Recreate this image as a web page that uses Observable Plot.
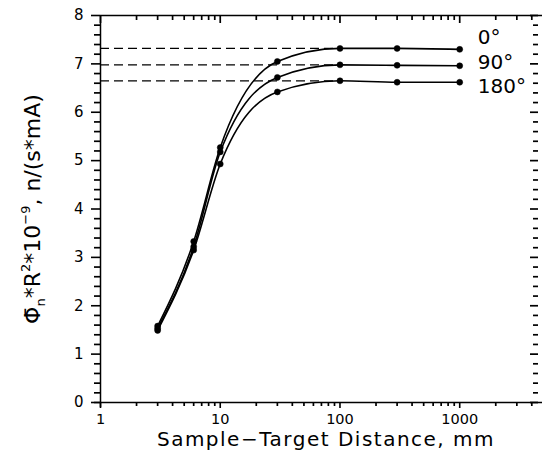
<!DOCTYPE html>
<html><head><meta charset="utf-8">
<script src="https://cdn.jsdelivr.net/npm/d3@7"></script>
<script src="https://cdn.jsdelivr.net/npm/@observablehq/plot@0.6"></script>
<style>body{margin:0;background:#fff}</style>
</head><body><div id="chart"></div>
<script>
// ---- data ----
const distances = [3, 6, 10, 30, 100, 300, 1000];
const angles = ["0°", "90°", "180°"];
const phi0   = [1.58, 3.33, 5.27, 7.05, 7.32, 7.32, 7.30];
const phi90  = [1.53, 3.22, 5.18, 6.72, 6.98, 6.97, 6.96];
const phi180 = [1.49, 3.15, 4.93, 6.42, 6.65, 6.62, 6.62];
const yTickValues = [0, 1, 2, 3, 4, 5, 6, 7, 8];
const xTickValues = [1, 10, 100, 1000];
const xMax = 4550;
const plateauDistance = 100;

const font = "DejaVu Sans";
const W = 542, H = 452, mL = 100, mR = 4, mT = 15, mB = 50;

const seriesValues = [phi0, phi90, phi180];
const rows = [];
angles.forEach((a, k) => distances.forEach((d, i) => rows.push({angle: a, dist: d, phi: seriesValues[k][i]})));
const plateau = angles.map((a, k) => ({angle: a, phi: seriesValues[k][distances.indexOf(plateauDistance)]}));
const lastRows = angles.map((a, k) => ({angle: a, dist: distances[distances.length - 1], phi: seriesValues[k][distances.length - 1]}));

const yMinor = d3.range(0, 8.001, 0.2).map(v => +v.toFixed(1)).filter(v => !yTickValues.includes(v));
const xMinor = [];
xTickValues.forEach(dec => { for (let m = 2; m <= 9; m++) if (dec * m <= xMax) xMinor.push(dec * m); });

const yLo = yTickValues[0], yHi = yTickValues[yTickValues.length - 1], xLo = xTickValues[0];
const labelDy = [-12, -3, 4];
const tk = {stroke: "black", strokeWidth: 1.7};

const chart = Plot.plot({
  width: W, height: H, marginLeft: mL, marginRight: mR, marginTop: mT, marginBottom: mB,
  style: {fontFamily: font, background: "white", color: "black"},
  x: {type: "log", domain: [xLo, xMax]},
  y: {domain: [yLo, yHi]},
  marks: [
    // frame lines
    Plot.ruleX([xLo], {stroke: "black", strokeWidth: 1.5, insetBottom: -5}),
    Plot.ruleY([yLo], {stroke: "black", strokeWidth: 1.5, insetLeft: -6, insetRight: -4}),
    Plot.ruleY([yHi], {stroke: "black", strokeWidth: 1.5, insetRight: -4}),
    // left minor ticks (outward)
    Plot.ruleY(yMinor, {y: d => d, x1: xLo, x2: xLo, insetLeft: -6, ...tk}),
    Plot.axisY(yTickValues, {anchor: "left", tickSize: 9, tickPadding: 8, fontSize: 15, label: null, strokeWidth: 1.6}),
    // right ticks (inward)
    Plot.ruleY(yMinor, {y: d => d, x1: xMax, x2: xMax, insetLeft: -5, ...tk}),
    Plot.ruleY(yTickValues, {y: d => d, x1: xMax, x2: xMax, insetLeft: -8, ...tk}),
    // bottom minor ticks (outward)
    Plot.ruleX(xMinor, {x: d => d, y1: yLo, y2: yLo, insetBottom: -4, ...tk}),
    Plot.axisX(xTickValues, {anchor: "bottom", tickSize: 6, tickPadding: 5, fontSize: 14.5, tickFormat: d => String(d), label: null, strokeWidth: 1.6}),
    // top ticks (inward)
    Plot.ruleX(xMinor, {x: d => d, y1: yHi, y2: yHi, insetBottom: -5, ...tk}),
    Plot.ruleX(xTickValues, {x: d => d, y1: yHi, y2: yHi, insetBottom: -8, ...tk}),
    // dashed plateau lines
    Plot.ruleY(plateau, {y: "phi", x1: xLo, x2: plateauDistance, stroke: "black", strokeWidth: 1.3, strokeDasharray: "9,5"}),
    // curves and points
    Plot.line(rows, {x: "dist", y: "phi", z: "angle", curve: "monotone-x", stroke: "black", strokeWidth: 1.6}),
    Plot.dot(rows, {x: "dist", y: "phi", r: 3, fill: "black", stroke: "black", strokeWidth: 0.5}),
    // series labels
    ...lastRows.map((r, k) => Plot.text([r], {x: "dist", y: "phi", text: "angle", dx: 18, dy: labelDy[k], textAnchor: "start", fontSize: 20, fill: "black"}))
  ]
});
document.getElementById("chart").appendChild(chart);

const svg = d3.select(chart);
// y-axis title
const t = svg.append("text")
  .attr("transform", "translate(40,209) rotate(-90)")
  .attr("text-anchor", "middle")
  .attr("font-family", font).attr("font-size", 22).attr("fill", "black");
t.append("tspan").text("Φ\u0304");
t.append("tspan").attr("font-size", 13).attr("dy", 5).text("n");
t.append("tspan").attr("dy", -5).text("*R");
t.append("tspan").attr("font-size", 13).attr("dy", -10).text("2");
t.append("tspan").attr("dy", 10).text("*10");
t.append("tspan").attr("font-size", 13).attr("dy", -10).text("−9");
t.append("tspan").attr("dy", 10).text(", n/(s*mA)");
// x-axis title
svg.append("text")
  .attr("x", 326).attr("y", 446)
  .attr("text-anchor", "middle")
  .attr("font-family", font).attr("font-size", 20).attr("letter-spacing", 1.5).attr("fill", "black")
  .text("Sample−Target Distance, mm");
</script>
</body></html>
